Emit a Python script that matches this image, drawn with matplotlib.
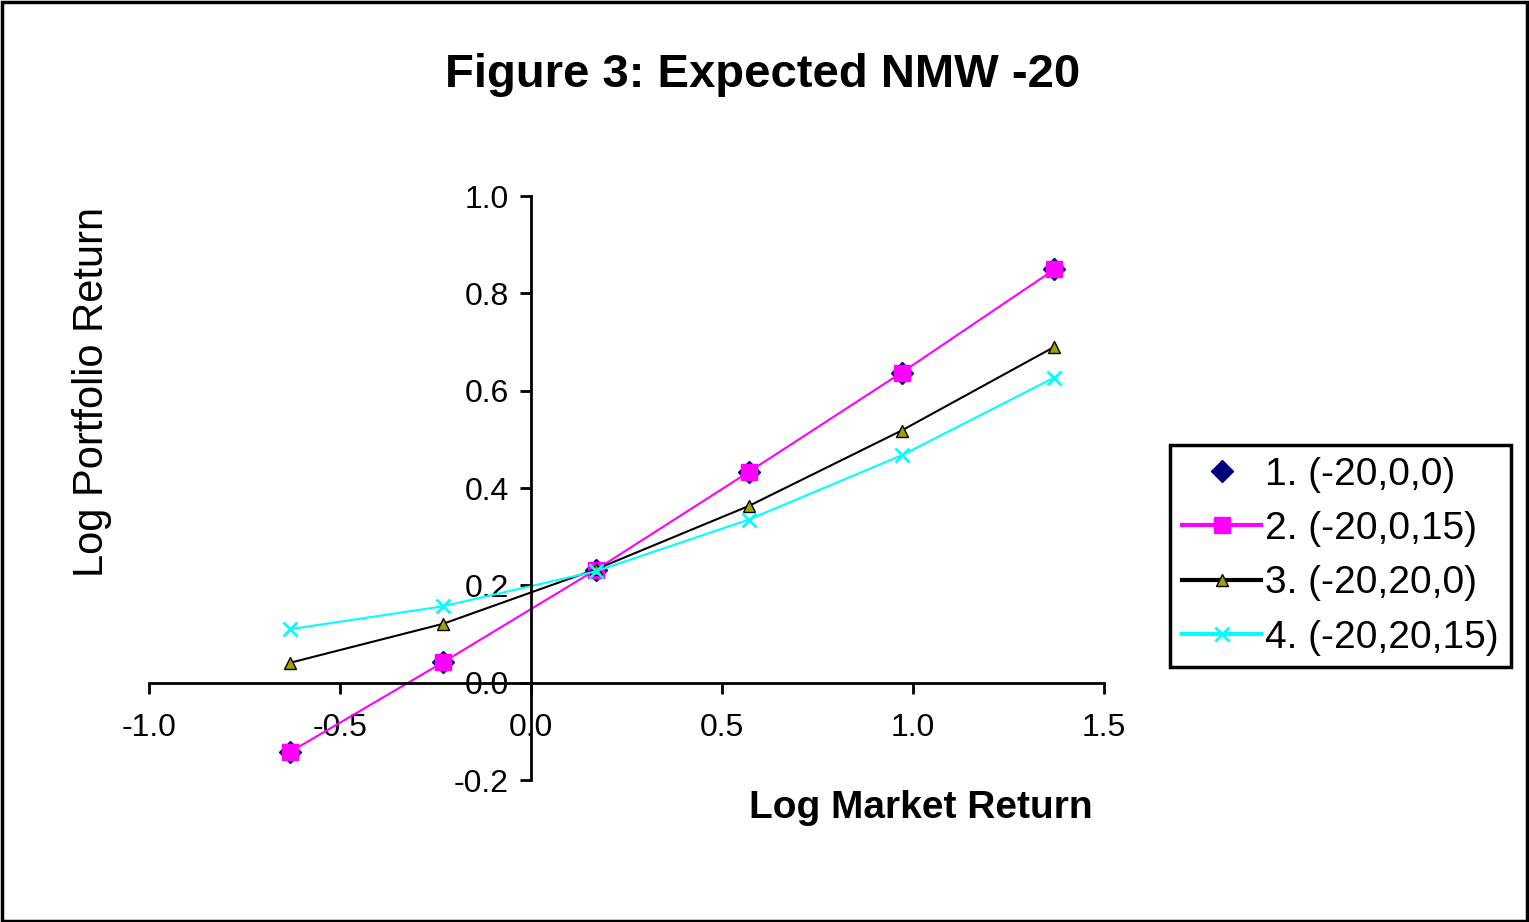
import matplotlib
matplotlib.use("Agg")
import matplotlib.pyplot as plt
from matplotlib.patches import Rectangle

plt.rcParams['font.family'] = ['Liberation Sans', 'DejaVu Sans']

# data
x_vals = [-0.63, -0.23, 0.17, 0.57, 0.97, 1.37]
s1 = [-0.142, 0.042, 0.232, 0.433, 0.637, 0.849]
s2 = [-0.142, 0.042, 0.232, 0.433, 0.637, 0.849]
s3 = [0.041, 0.121, 0.233, 0.363, 0.518, 0.690]
s4 = [0.110, 0.157, 0.229, 0.335, 0.467, 0.627]
labels = ["1. (-20,0,0)", "2. (-20,0,15)", "3. (-20,20,0)", "4. (-20,20,15)"]
x_ticks = [-1.0, -0.5, 0.0, 0.5, 1.0, 1.5]
y_ticks = [-0.2, 0.0, 0.2, 0.4, 0.6, 0.8, 1.0]

fig = plt.figure(figsize=(15.29, 9.22), dpi=100)
ax = fig.add_axes([149 / 1529, 1 - 780 / 922, (1104 - 149) / 1529, (780 - 196) / 922])

ax.plot(x_vals, s1, linestyle='none', marker='D', color='#000080', markersize=11, label=labels[0])
ax.plot(x_vals, s2, color='#ff00ff', marker='s', markersize=12, linewidth=1.5, label=labels[1])
ax.plot(x_vals, s3, color='black', marker='^', markerfacecolor='#a0a000',
        markeredgecolor='black', markersize=8, linewidth=1.5, label=labels[2])
ax.plot(x_vals, s4, color='#00ffff', marker='x', markersize=10, markeredgewidth=2,
        linewidth=1.5, label=labels[3])

ax.set_xlim(-1.0, 1.5)
ax.set_ylim(-0.2, 1.0)
ax.set_xticks(x_ticks)
ax.set_yticks(y_ticks)
ax.set_xticklabels([f"{v:.1f}" for v in x_ticks])
ax.set_yticklabels([f"{v:.1f}" for v in y_ticks])

ax.spines['top'].set_visible(False)
ax.spines['right'].set_visible(False)
ax.spines['left'].set_position(('data', 0))
ax.spines['bottom'].set_position(('data', 0))
ax.spines['left'].set_linewidth(2)
ax.spines['bottom'].set_linewidth(2)
ax.tick_params(direction='out', length=8, width=2, labelsize=23, colors='black')
ax.tick_params(axis='x', pad=14)
ax.tick_params(axis='y', pad=8)
ax.patch.set_alpha(0)

fig.text(763 / 1529, 1 - 75 / 922, "Figure 3: Expected NMW -20", ha='center', va='center',
         fontsize=34, fontweight='bold')
fig.text(921 / 1529, 1 - 808 / 922, "Log Market Return", ha='center', va='center',
         fontsize=28, fontweight='bold')
fig.text(92 / 1529, 1 - 392 / 922, "Log Portfolio Return", ha='center', va='center',
         fontsize=30, rotation=90)

leg = ax.legend(loc='upper left', bbox_to_anchor=(1170 / 1529, 1 - 445 / 922),
                bbox_transform=fig.transFigure, borderaxespad=0, fontsize=28,
                frameon=True, fancybox=False, framealpha=1, handlelength=2.05,
                handletextpad=0.1, borderpad=0.3, labelspacing=0.47)
leg.get_frame().set_edgecolor('black')
leg.get_frame().set_linewidth(2.5)
for line in leg.get_lines():
    line.set_linewidth(3)

fig.patches.append(Rectangle((0.001, 0.001), 0.998, 0.997, transform=fig.transFigure,
                             fill=False, edgecolor='black', linewidth=2.5))

fig.savefig("out.png", dpi=100)
